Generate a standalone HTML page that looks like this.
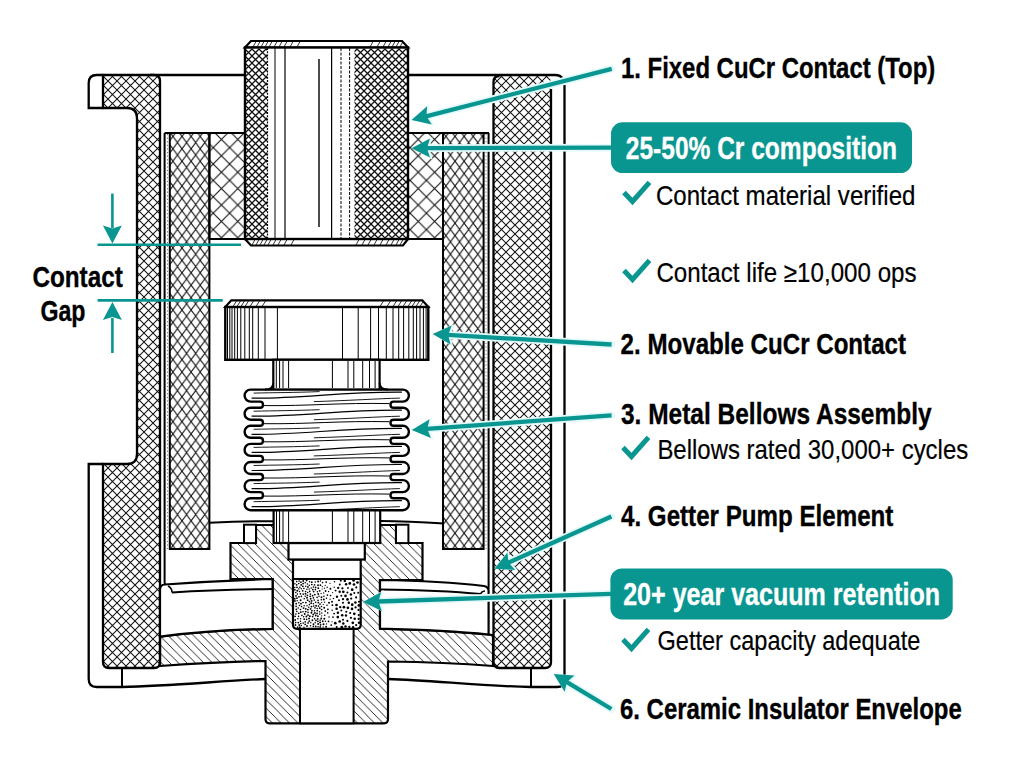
<!DOCTYPE html>
<html><head><meta charset="utf-8"><style>
html,body{margin:0;padding:0;background:#fff;width:1024px;height:765px;overflow:hidden;font-family:"Liberation Sans",sans-serif;}
svg{display:block}
</style></head><body>
<svg width="1024" height="765" viewBox="0 0 1024 765" font-family="Liberation Sans, sans-serif">
<defs>
<pattern id="xh1" width="9" height="9" patternUnits="userSpaceOnUse">
 <path d="M-1,-1 L10,10 M10,-1 L-1,10" stroke="#111" stroke-width="1.05"/>
</pattern>
<pattern id="xhR" width="9" height="9" patternUnits="userSpaceOnUse" x="2">
 <path d="M-1,-1 L10,10 M10,-1 L-1,10" stroke="#111" stroke-width="1.05"/>
</pattern>
<pattern id="xh2" width="9.1" height="12.4" patternUnits="userSpaceOnUse">
 <path d="M0,0 L9.1,12.4 M9.1,0 L0,12.4" stroke="#111" stroke-width="1.05"/>
</pattern>
<pattern id="xh3" width="16.4" height="16.4" patternUnits="userSpaceOnUse">
 <path d="M0,0 L16.4,16.4 M16.4,0 L0,16.4" stroke="#111" stroke-width="1.1"/>
</pattern>
<pattern id="xh4" width="7" height="7" patternUnits="userSpaceOnUse">
 <path d="M-1,-1 L8,8 M8,-1 L-1,8" stroke="#111" stroke-width="1.3"/>
</pattern>
<pattern id="hat" width="8.5" height="8.5" patternUnits="userSpaceOnUse">
 <path d="M-1,-1 L9.5,9.5 M-1,7.5 L1,9.5 M7.5,-1 L9.5,1" stroke="#111" stroke-width="0.9"/>
</pattern>
<pattern id="hatS" width="4" height="4" patternUnits="userSpaceOnUse">
 <path d="M-1,5 L5,-1" stroke="#111" stroke-width="0.8"/>
</pattern>
</defs>
<rect width="1024" height="765" fill="#fff"/><path d="M103,75 H154 Q160,75 160,81 V662 Q160,668 154,668 H109 Q103,668 103,662 V464 H127 Q137,464 137,454 V118 Q137,108 127,108 H103 Z" fill="url(#xh1)" stroke="#000" stroke-width="2.3"/>
<path d="M103,75 H96.7 Q88.7,75 88.7,83 V108 H103" fill="none" stroke="#000" stroke-width="2.3"/>
<path d="M103,464 H88.7 V679 Q88.7,687 96.7,687 H122 C170,686 220,681 265.5,679" fill="none" stroke="#000" stroke-width="2.3"/>
<line x1="122" y1="668" x2="122" y2="687" stroke="#000" stroke-width="2" />
<line x1="150" y1="75" x2="246" y2="75" stroke="#000" stroke-width="2.6" />
<path d="M499.5,75.5 H551 V662 Q551,668 545,668 H499.5 Q493.5,668 493.5,662 V81.5 Q493.5,75.5 499.5,75.5 Z" fill="url(#xhR)" stroke="none"/>
<path d="M551,89 V662 Q551,668 545,668 H499.5 Q493.5,668 493.5,662 V82 Q493.5,76 499.5,76" fill="none" stroke="#000" stroke-width="2.3"/>
<path d="M407,75 H555 Q561,75 562.5,79" fill="none" stroke="#000" stroke-width="2.6"/>
<path d="M564.5,85 V680 Q564.5,687 557,687 H531 C480,686 430,680 388,679" fill="none" stroke="#000" stroke-width="2.3"/>
<line x1="531" y1="668" x2="531" y2="687" stroke="#000" stroke-width="2" />
<rect x="169.8" y="133" width="39.6" height="416" fill="url(#xh2)" stroke="#000" stroke-width="2"/>
<rect x="209.4" y="133" width="35.6" height="106" fill="url(#xh3)" stroke="#000" stroke-width="2"/>
<line x1="164.6" y1="133" x2="246" y2="133" stroke="#000" stroke-width="2.2" />
<path d="M164.6,133 V582 Q164.6,586 168,586" fill="none" stroke="#000" stroke-width="2"/>
<line x1="167.5" y1="134" x2="167.5" y2="549" stroke="#777" stroke-width="1.0" stroke-dasharray="1.2 2.4"/>
<rect x="443" y="133" width="40.6" height="416" fill="url(#xh2)" stroke="#000" stroke-width="2"/>
<rect x="407.5" y="133" width="35.5" height="106" fill="url(#xh3)" stroke="#000" stroke-width="2"/>
<line x1="407" y1="133" x2="489" y2="133" stroke="#000" stroke-width="2.2" />
<path d="M488.6,133 V587 Q488.6,591 485,591" fill="none" stroke="#000" stroke-width="2"/>
<line x1="486" y1="134" x2="486" y2="549" stroke="#777" stroke-width="1.0" stroke-dasharray="1.2 2.4"/>
<path d="M245,47.5 L251,41 H402 L408,47.5 Z" fill="#fff" stroke="#000" stroke-width="2.2"/>
<line x1="253" y1="47" x2="256" y2="41.5" stroke="#000" stroke-width="0.8" />
<line x1="257" y1="47" x2="260" y2="41.5" stroke="#000" stroke-width="0.8" />
<line x1="261" y1="47" x2="264" y2="41.5" stroke="#000" stroke-width="0.8" />
<line x1="265" y1="47" x2="268" y2="41.5" stroke="#000" stroke-width="0.8" />
<line x1="269" y1="47" x2="272" y2="41.5" stroke="#000" stroke-width="0.8" />
<line x1="274" y1="47" x2="277" y2="41.5" stroke="#000" stroke-width="0.8" />
<line x1="279" y1="47" x2="282" y2="41.5" stroke="#000" stroke-width="0.8" />
<line x1="284" y1="47" x2="287" y2="41.5" stroke="#000" stroke-width="0.8" />
<line x1="290" y1="47" x2="293" y2="41.5" stroke="#000" stroke-width="0.8" />
<line x1="297" y1="47" x2="300" y2="41.5" stroke="#000" stroke-width="0.8" />
<line x1="370" y1="47" x2="373" y2="41.5" stroke="#000" stroke-width="0.8" />
<line x1="377" y1="47" x2="380" y2="41.5" stroke="#000" stroke-width="0.8" />
<line x1="383" y1="47" x2="386" y2="41.5" stroke="#000" stroke-width="0.8" />
<line x1="388" y1="47" x2="391" y2="41.5" stroke="#000" stroke-width="0.8" />
<line x1="392" y1="47" x2="395" y2="41.5" stroke="#000" stroke-width="0.8" />
<line x1="396" y1="47" x2="399" y2="41.5" stroke="#000" stroke-width="0.8" />
<line x1="400" y1="47" x2="403" y2="41.5" stroke="#000" stroke-width="0.8" />
<path d="M245,239 L251,245.5 H403 L408,239 Z" fill="#fff" stroke="#000" stroke-width="2.2"/>
<line x1="252" y1="245" x2="255" y2="239.5" stroke="#000" stroke-width="0.8" />
<line x1="256" y1="245" x2="259" y2="239.5" stroke="#000" stroke-width="0.8" />
<line x1="260" y1="245" x2="263" y2="239.5" stroke="#000" stroke-width="0.8" />
<line x1="264" y1="245" x2="267" y2="239.5" stroke="#000" stroke-width="0.8" />
<line x1="268" y1="245" x2="271" y2="239.5" stroke="#000" stroke-width="0.8" />
<line x1="273" y1="245" x2="276" y2="239.5" stroke="#000" stroke-width="0.8" />
<line x1="278" y1="245" x2="281" y2="239.5" stroke="#000" stroke-width="0.8" />
<line x1="284" y1="245" x2="287" y2="239.5" stroke="#000" stroke-width="0.8" />
<line x1="291" y1="245" x2="294" y2="239.5" stroke="#000" stroke-width="0.8" />
<line x1="356" y1="245" x2="359" y2="239.5" stroke="#000" stroke-width="0.8" />
<line x1="362" y1="245" x2="365" y2="239.5" stroke="#000" stroke-width="0.8" />
<line x1="368" y1="245" x2="371" y2="239.5" stroke="#000" stroke-width="0.8" />
<line x1="374" y1="245" x2="377" y2="239.5" stroke="#000" stroke-width="0.8" />
<line x1="380" y1="245" x2="383" y2="239.5" stroke="#000" stroke-width="0.8" />
<line x1="386" y1="245" x2="389" y2="239.5" stroke="#000" stroke-width="0.8" />
<line x1="391" y1="245" x2="394" y2="239.5" stroke="#000" stroke-width="0.8" />
<line x1="396" y1="245" x2="399" y2="239.5" stroke="#000" stroke-width="0.8" />
<line x1="400" y1="245" x2="403" y2="239.5" stroke="#000" stroke-width="0.8" />
<rect x="245" y="47.5" width="163" height="191.5" fill="#fff" stroke="#000" stroke-width="2.4"/>
<rect x="246" y="48.5" width="21" height="189.5" fill="url(#xh4)"/>
<rect x="354.5" y="48.5" width="52.5" height="189.5" fill="url(#xh4)"/>
<line x1="267.5" y1="48" x2="267.5" y2="239" stroke="#000" stroke-width="1.2" stroke-dasharray="2 1.2"/>
<line x1="275" y1="48" x2="275" y2="239" stroke="#000" stroke-width="1" />
<line x1="285" y1="48" x2="285" y2="239" stroke="#000" stroke-width="1.2" />
<line x1="319" y1="59" x2="319" y2="227" stroke="#000" stroke-width="1.4" />
<line x1="331.6" y1="48" x2="331.6" y2="239" stroke="#000" stroke-width="1.2" />
<line x1="341" y1="48" x2="341" y2="239" stroke="#000" stroke-width="1" stroke-dasharray="3 1.5"/>
<line x1="349.6" y1="48" x2="349.6" y2="239" stroke="#000" stroke-width="1" stroke-dasharray="3 1.5"/>
<path d="M256,525 H396 V543 H422.5 V580 H380 V628.6 C420,629.5 460,631.5 493,635 V666 C460,663.5 420,662 388,661.5 V719 Q388,723.3 384,723.3 H269.5 Q265.5,723.3 265.5,719 V661 C230,661.5 195,663.5 160,666 V636.6 C195,632 235,629.5 272.6,628.8 V579 H230.5 V543 H256 Z" fill="url(#hat)" stroke="#000" stroke-width="2.2"/>
<rect x="244" y="524.7" width="12" height="18.4" fill="#fff" stroke="#000" stroke-width="2"/>
<rect x="396" y="524.7" width="12.4" height="18.4" fill="#fff" stroke="#000" stroke-width="2"/>
<path d="M209.4,522.8 C230,521.8 255,521.2 274,521.2" fill="none" stroke="#000" stroke-width="2"/>
<path d="M380,521 C405,521.2 425,522.3 444,523.5" fill="none" stroke="#000" stroke-width="2"/>
<path d="M165,584.5 C200,582 240,580 272.6,579 V628.8 C235,629.5 195,632 160,636.6 V590 Q160,584.5 165,584.5 Z" fill="#fff" stroke="#000" stroke-width="2.2"/>
<path d="M172,592.4 C205,590.5 240,589.5 272.6,589" fill="none" stroke="#000" stroke-width="2"/>
<path d="M168,586 Q172,588 172,592.4" fill="none" stroke="#000" stroke-width="1.6"/>
<path d="M380,580 C415,580.5 455,582.5 484,586 Q488.6,587 488.6,591 V634.5 C460,631.5 420,629.5 380,628.6 Z" fill="#fff" stroke="#000" stroke-width="2.2"/>
<path d="M380,589.4 C415,589.8 450,591 481,594" fill="none" stroke="#000" stroke-width="2"/>
<path d="M485,591 Q481,591.5 481,594" fill="none" stroke="#000" stroke-width="1.6"/>
<rect x="293" y="559.5" width="67.7" height="20" fill="#fff" stroke="#000" stroke-width="2.2"/>
<rect x="288.5" y="543" width="76.3" height="16.5" fill="#fff" stroke="#000" stroke-width="2.2"/>
<rect x="300" y="628.8" width="53.6" height="94.5" fill="#fff" stroke="#000" stroke-width="2"/>
<path d="M293,579 H360.7 V624.8 Q360.7,628.8 356.7,628.8 H297 Q293,628.8 293,624.8 Z" fill="#fff" stroke="#000" stroke-width="2.2"/>
<g fill="#000"><circle cx="315.6" cy="587.4" r="0.89"/><circle cx="299.5" cy="605.5" r="0.83"/><circle cx="297.2" cy="600.7" r="0.77"/><circle cx="300.6" cy="600.3" r="0.93"/><circle cx="302.7" cy="590.8" r="0.89"/><circle cx="355.6" cy="607.4" r="1.13"/><circle cx="357.5" cy="582.5" r="1.34"/><circle cx="313.4" cy="587.1" r="0.78"/><circle cx="314.6" cy="618.7" r="0.79"/><circle cx="332.1" cy="610.3" r="0.75"/><circle cx="330.0" cy="583.3" r="0.62"/><circle cx="308.0" cy="612.3" r="0.84"/><circle cx="315.0" cy="607.8" r="0.85"/><circle cx="339.7" cy="591.8" r="1.21"/><circle cx="328.5" cy="621.4" r="0.89"/><circle cx="313.3" cy="626.4" r="0.78"/><circle cx="321.6" cy="615.9" r="0.66"/><circle cx="326.2" cy="582.1" r="0.87"/><circle cx="343.9" cy="607.2" r="1.34"/><circle cx="314.9" cy="613.0" r="0.88"/><circle cx="332.0" cy="601.7" r="0.94"/><circle cx="355.4" cy="602.6" r="1.25"/><circle cx="298.7" cy="613.3" r="0.89"/><circle cx="358.6" cy="618.9" r="1.08"/><circle cx="319.6" cy="611.7" r="0.75"/><circle cx="324.4" cy="588.2" r="0.65"/><circle cx="298.6" cy="616.4" r="0.78"/><circle cx="310.7" cy="598.7" r="0.94"/><circle cx="347.4" cy="620.9" r="1.08"/><circle cx="321.5" cy="597.2" r="0.95"/><circle cx="356.3" cy="587.4" r="1.03"/><circle cx="309.7" cy="591.3" r="0.86"/><circle cx="332.6" cy="592.6" r="0.60"/><circle cx="331.2" cy="625.1" r="0.88"/><circle cx="327.9" cy="609.3" r="0.87"/><circle cx="298.3" cy="622.6" r="0.92"/><circle cx="350.9" cy="617.8" r="1.13"/><circle cx="320.4" cy="585.2" r="0.85"/><circle cx="298.8" cy="583.5" r="0.80"/><circle cx="305.2" cy="596.3" r="0.76"/><circle cx="294.8" cy="587.4" r="0.77"/><circle cx="318.1" cy="581.5" r="0.94"/><circle cx="334.2" cy="587.3" r="0.70"/><circle cx="317.1" cy="597.4" r="0.78"/><circle cx="349.3" cy="627.0" r="1.16"/><circle cx="301.4" cy="596.4" r="0.81"/><circle cx="348.0" cy="587.9" r="0.96"/><circle cx="304.2" cy="605.8" r="0.76"/><circle cx="350.2" cy="613.0" r="1.07"/><circle cx="318.3" cy="588.2" r="0.92"/><circle cx="329.0" cy="616.9" r="0.73"/><circle cx="309.1" cy="618.4" r="0.97"/><circle cx="309.4" cy="604.6" r="0.83"/><circle cx="296.7" cy="581.6" r="0.81"/><circle cx="311.4" cy="612.8" r="0.96"/><circle cx="323.5" cy="624.3" r="1.00"/><circle cx="356.1" cy="597.4" r="1.05"/><circle cx="307.9" cy="609.6" r="0.95"/><circle cx="348.8" cy="602.8" r="1.24"/><circle cx="346.1" cy="584.3" r="1.25"/><circle cx="343.0" cy="602.8" r="1.03"/><circle cx="345.5" cy="595.9" r="1.31"/><circle cx="320.6" cy="624.8" r="0.89"/><circle cx="305.7" cy="586.3" r="0.78"/><circle cx="304.2" cy="619.1" r="0.97"/><circle cx="337.0" cy="596.8" r="1.20"/><circle cx="303.2" cy="581.0" r="0.96"/><circle cx="336.5" cy="605.0" r="1.37"/><circle cx="322.7" cy="621.3" r="0.93"/><circle cx="313.6" cy="591.6" r="0.88"/><circle cx="303.2" cy="623.1" r="0.83"/><circle cx="324.2" cy="607.7" r="0.96"/><circle cx="327.0" cy="605.3" r="0.81"/><circle cx="306.6" cy="580.5" r="0.93"/><circle cx="305.9" cy="602.6" r="0.91"/><circle cx="330.5" cy="595.6" r="0.81"/><circle cx="301.6" cy="606.6" r="0.80"/><circle cx="312.6" cy="616.6" r="0.86"/><circle cx="327.7" cy="612.9" r="0.78"/><circle cx="329.0" cy="602.8" r="0.98"/><circle cx="339.7" cy="621.5" r="1.37"/><circle cx="311.5" cy="606.6" r="0.96"/><circle cx="299.5" cy="591.6" r="0.77"/><circle cx="337.8" cy="617.1" r="1.35"/><circle cx="304.7" cy="614.0" r="0.90"/><circle cx="326.1" cy="626.8" r="0.93"/><circle cx="307.4" cy="595.3" r="0.91"/><circle cx="296.1" cy="606.3" r="0.85"/><circle cx="296.0" cy="595.9" r="0.89"/><circle cx="311.8" cy="582.2" r="0.92"/><circle cx="347.4" cy="592.5" r="1.02"/><circle cx="339.8" cy="584.5" r="0.98"/><circle cx="339.0" cy="600.3" r="0.98"/><circle cx="349.8" cy="583.4" r="1.34"/><circle cx="323.9" cy="596.2" r="0.82"/><circle cx="354.3" cy="592.9" r="1.01"/><circle cx="328.6" cy="591.5" r="0.64"/><circle cx="305.2" cy="582.7" r="0.79"/><circle cx="314.8" cy="594.6" r="0.92"/><circle cx="313.4" cy="603.8" r="0.79"/><circle cx="320.0" cy="604.1" r="0.90"/><circle cx="303.1" cy="583.6" r="0.91"/><circle cx="311.2" cy="588.0" r="0.77"/><circle cx="310.4" cy="594.1" r="0.85"/><circle cx="310.5" cy="625.7" r="0.82"/><circle cx="311.8" cy="584.5" r="0.84"/><circle cx="332.4" cy="605.2" r="0.90"/><circle cx="351.2" cy="598.6" r="1.10"/><circle cx="341.3" cy="610.5" r="0.97"/><circle cx="347.9" cy="607.8" r="1.35"/><circle cx="309.6" cy="581.8" r="0.78"/><circle cx="318.0" cy="585.2" r="0.93"/><circle cx="346.0" cy="615.5" r="1.18"/><circle cx="308.0" cy="615.1" r="0.96"/><circle cx="326.5" cy="598.3" r="0.79"/><circle cx="299.8" cy="587.2" r="0.81"/><circle cx="337.9" cy="612.8" r="1.25"/><circle cx="324.6" cy="602.2" r="0.65"/><circle cx="352.2" cy="589.7" r="1.39"/><circle cx="324.3" cy="618.8" r="0.99"/><circle cx="323.7" cy="592.9" r="0.68"/><circle cx="343.0" cy="619.7" r="1.00"/><circle cx="354.3" cy="613.8" r="1.36"/><circle cx="313.4" cy="597.8" r="0.84"/><circle cx="318.0" cy="600.4" r="0.81"/><circle cx="307.0" cy="597.8" r="0.96"/><circle cx="335.3" cy="623.2" r="1.37"/><circle cx="303.0" cy="602.5" r="0.83"/><circle cx="308.1" cy="622.9" r="0.86"/><circle cx="321.3" cy="599.8" r="0.81"/><circle cx="319.0" cy="596.2" r="0.76"/><circle cx="294.8" cy="598.7" r="0.95"/><circle cx="319.7" cy="590.8" r="0.88"/><circle cx="296.2" cy="603.7" r="0.90"/><circle cx="304.2" cy="598.8" r="0.80"/><circle cx="320.1" cy="622.5" r="0.94"/><circle cx="341.8" cy="627.2" r="1.37"/><circle cx="296.8" cy="611.5" r="0.83"/><circle cx="317.7" cy="618.9" r="0.93"/><circle cx="322.6" cy="582.6" r="0.79"/><circle cx="321.2" cy="618.5" r="0.91"/><circle cx="343.3" cy="623.4" r="1.24"/><circle cx="356.2" cy="625.1" r="1.12"/><circle cx="326.5" cy="623.9" r="0.67"/><circle cx="315.7" cy="626.4" r="0.94"/><circle cx="358.2" cy="592.7" r="0.99"/><circle cx="301.0" cy="603.7" r="0.91"/><circle cx="321.6" cy="609.5" r="0.87"/><circle cx="320.2" cy="626.9" r="0.86"/><circle cx="336.7" cy="626.9" r="1.00"/><circle cx="297.4" cy="594.1" r="0.78"/><circle cx="307.0" cy="626.0" r="0.88"/><circle cx="321.1" cy="593.6" r="0.72"/><circle cx="347.5" cy="599.4" r="1.35"/><circle cx="300.5" cy="609.5" r="0.83"/><circle cx="327.2" cy="587.2" r="0.71"/><circle cx="296.3" cy="609.4" r="0.86"/><circle cx="309.9" cy="616.2" r="0.92"/><circle cx="325.2" cy="585.3" r="0.65"/><circle cx="323.2" cy="604.3" r="0.62"/><circle cx="299.0" cy="596.8" r="0.92"/><circle cx="315.3" cy="582.0" r="0.79"/><circle cx="305.2" cy="624.3" r="0.90"/><circle cx="317.9" cy="621.3" r="0.87"/><circle cx="332.0" cy="621.8" r="0.64"/><circle cx="358.5" cy="609.9" r="1.13"/><circle cx="317.9" cy="616.2" r="0.85"/><circle cx="297.9" cy="618.8" r="0.81"/><circle cx="297.0" cy="587.3" r="0.89"/><circle cx="317.3" cy="610.6" r="0.85"/><circle cx="310.8" cy="622.8" r="0.76"/><circle cx="344.8" cy="580.9" r="1.20"/><circle cx="295.2" cy="620.0" r="0.91"/><circle cx="324.7" cy="615.2" r="0.78"/><circle cx="309.3" cy="585.2" r="0.80"/><circle cx="295.8" cy="592.5" r="0.80"/><circle cx="301.2" cy="584.9" r="0.92"/><circle cx="334.5" cy="581.8" r="0.77"/><circle cx="317.1" cy="613.4" r="0.87"/><circle cx="300.6" cy="618.8" r="0.79"/><circle cx="294.9" cy="589.8" r="0.92"/><circle cx="342.4" cy="588.3" r="1.15"/><circle cx="301.3" cy="625.5" r="0.77"/><circle cx="320.5" cy="580.9" r="0.77"/><circle cx="321.8" cy="613.1" r="0.74"/><circle cx="313.7" cy="606.1" r="0.78"/><circle cx="322.2" cy="589.0" r="0.60"/><circle cx="318.1" cy="624.0" r="0.94"/><circle cx="295.5" cy="625.0" r="0.89"/><circle cx="352.0" cy="608.9" r="1.30"/><circle cx="318.3" cy="602.6" r="0.87"/><circle cx="301.3" cy="588.8" r="0.76"/><circle cx="314.2" cy="600.1" r="0.82"/><circle cx="319.7" cy="608.1" r="0.96"/><circle cx="300.5" cy="621.2" r="0.78"/><circle cx="295.9" cy="614.1" r="0.80"/><circle cx="340.8" cy="580.8" r="0.96"/><circle cx="312.4" cy="620.3" r="0.93"/><circle cx="306.9" cy="589.3" r="0.79"/><circle cx="297.7" cy="627.2" r="0.83"/><circle cx="352.8" cy="622.8" r="1.33"/><circle cx="305.6" cy="591.5" r="0.78"/><circle cx="315.2" cy="622.7" r="0.78"/><circle cx="308.8" cy="607.2" r="0.78"/><circle cx="306.4" cy="616.5" r="0.91"/><circle cx="307.4" cy="584.0" r="0.77"/><circle cx="334.1" cy="613.6" r="0.92"/><circle cx="325.4" cy="621.3" r="0.71"/><circle cx="306.7" cy="619.4" r="0.83"/><circle cx="309.2" cy="588.9" r="0.77"/><circle cx="296.7" cy="584.8" r="0.90"/><circle cx="303.6" cy="608.1" r="0.94"/><circle cx="314.4" cy="610.7" r="0.78"/><circle cx="303.2" cy="594.1" r="0.84"/><circle cx="342.2" cy="615.2" r="1.29"/><circle cx="295.1" cy="616.3" r="0.88"/><circle cx="311.9" cy="610.7" r="0.87"/><circle cx="319.8" cy="614.1" r="0.80"/><circle cx="317.4" cy="591.8" r="0.79"/><circle cx="309.4" cy="601.6" r="0.78"/><circle cx="305.7" cy="611.6" r="0.88"/><circle cx="312.8" cy="589.6" r="0.90"/><circle cx="315.6" cy="602.3" r="0.83"/><circle cx="307.0" cy="605.8" r="0.75"/><circle cx="318.5" cy="606.2" r="0.83"/><circle cx="303.6" cy="616.8" r="0.76"/><circle cx="315.8" cy="615.5" r="0.89"/><circle cx="341.3" cy="595.8" r="0.99"/><circle cx="325.3" cy="611.1" r="0.91"/><circle cx="318.1" cy="626.8" r="0.80"/><circle cx="330.4" cy="588.8" r="0.98"/><circle cx="304.0" cy="627.2" r="0.75"/><circle cx="307.7" cy="600.2" r="0.92"/><circle cx="296.9" cy="598.2" r="0.89"/><circle cx="333.0" cy="617.1" r="0.88"/><circle cx="300.8" cy="612.1" r="0.96"/><circle cx="309.3" cy="621.1" r="0.97"/><circle cx="353.6" cy="580.4" r="1.33"/><circle cx="299.1" cy="581.0" r="0.83"/><circle cx="346.3" cy="611.8" r="1.07"/><circle cx="359.0" cy="601.8" r="1.05"/><circle cx="323.8" cy="599.5" r="0.96"/><circle cx="338.2" cy="587.9" r="1.12"/><circle cx="343.3" cy="591.8" r="1.36"/><circle cx="330.1" cy="599.2" r="0.67"/><circle cx="354.0" cy="584.5" r="1.37"/><circle cx="303.9" cy="588.5" r="0.83"/><circle cx="305.2" cy="621.9" r="0.83"/><circle cx="301.9" cy="615.4" r="0.81"/><circle cx="313.5" cy="624.2" r="0.93"/><circle cx="323.1" cy="627.0" r="0.64"/><circle cx="303.0" cy="611.8" r="0.81"/><circle cx="316.1" cy="605.8" r="0.95"/><circle cx="314.5" cy="584.9" r="0.81"/><circle cx="315.4" cy="589.6" r="0.84"/><circle cx="295.7" cy="622.6" r="0.81"/><circle cx="358.7" cy="615.1" r="1.04"/><circle cx="311.6" cy="600.9" r="0.95"/><circle cx="317.2" cy="608.4" r="0.77"/><circle cx="358.9" cy="605.4" r="1.38"/><circle cx="294.9" cy="583.7" r="0.76"/><circle cx="327.4" cy="595.1" r="0.84"/><circle cx="336.6" cy="608.7" r="1.28"/><circle cx="299.2" cy="625.0" r="0.89"/><circle cx="298.8" cy="602.8" r="0.81"/><circle cx="311.2" cy="603.2" r="0.92"/><circle cx="321.7" cy="602.3" r="0.65"/><circle cx="335.6" cy="590.6" r="0.96"/><circle cx="307.9" cy="586.9" r="0.95"/><circle cx="318.2" cy="594.0" r="0.96"/><circle cx="353.1" cy="627.2" r="1.25"/><circle cx="312.6" cy="595.7" r="0.87"/><circle cx="354.7" cy="618.8" r="1.24"/><circle cx="352.2" cy="604.7" r="1.38"/><circle cx="300.4" cy="593.8" r="0.84"/><circle cx="297.3" cy="590.7" r="0.97"/><circle cx="310.2" cy="596.3" r="0.91"/><circle cx="345.5" cy="626.5" r="1.24"/><circle cx="333.5" cy="598.4" r="0.74"/><circle cx="298.8" cy="589.1" r="0.76"/><circle cx="322.3" cy="586.6" r="0.61"/><circle cx="321.5" cy="606.5" r="0.80"/><circle cx="294.9" cy="601.0" r="0.90"/><circle cx="313.3" cy="614.5" r="0.90"/><circle cx="300.9" cy="582.2" r="0.86"/><circle cx="310.6" cy="608.8" r="0.91"/><circle cx="340.2" cy="607.1" r="1.19"/><circle cx="320.1" cy="620.3" r="0.79"/><circle cx="302.9" cy="586.3" r="0.91"/><circle cx="315.9" cy="620.4" r="0.86"/><circle cx="325.6" cy="591.0" r="0.90"/><circle cx="305.8" cy="608.8" r="0.89"/><circle cx="298.2" cy="608.0" r="0.83"/><circle cx="343.0" cy="599.1" r="1.17"/><circle cx="305.5" cy="593.8" r="0.94"/><circle cx="300.8" cy="623.4" r="0.77"/><circle cx="359.0" cy="622.8" r="1.27"/><circle cx="307.7" cy="592.4" r="0.76"/><circle cx="350.9" cy="594.5" r="1.23"/><circle cx="299.9" cy="627.2" r="0.93"/></g>
<rect x="273.6" y="509" width="106.6" height="34" fill="#fff" stroke="#000" stroke-width="2.2"/>
<line x1="276.5" y1="511" x2="276.5" y2="542" stroke="#000" stroke-width="1" />
<line x1="279.6" y1="511" x2="279.6" y2="542" stroke="#000" stroke-width="1" />
<line x1="283" y1="511" x2="283" y2="542" stroke="#000" stroke-width="1" />
<line x1="288.6" y1="511" x2="288.6" y2="542" stroke="#000" stroke-width="1" />
<line x1="332.4" y1="511" x2="332.4" y2="542" stroke="#000" stroke-width="1" />
<line x1="348" y1="511" x2="348" y2="542" stroke="#000" stroke-width="1" />
<line x1="353.8" y1="511" x2="353.8" y2="542" stroke="#000" stroke-width="1" />
<line x1="362.7" y1="511" x2="362.7" y2="542" stroke="#000" stroke-width="1" />
<line x1="369.5" y1="511" x2="369.5" y2="542" stroke="#000" stroke-width="1" />
<line x1="375.1" y1="511" x2="375.1" y2="542" stroke="#000" stroke-width="1" />
<path d="M225.3,307 L231.3,300.3 H422.3 L428.3,307 Z" fill="#fff" stroke="#000" stroke-width="2.2"/>
<line x1="233" y1="306.5" x2="236.5" y2="301" stroke="#000" stroke-width="0.8" />
<line x1="237" y1="306.5" x2="240.5" y2="301" stroke="#000" stroke-width="0.8" />
<line x1="241" y1="306.5" x2="244.5" y2="301" stroke="#000" stroke-width="0.8" />
<line x1="245" y1="306.5" x2="248.5" y2="301" stroke="#000" stroke-width="0.8" />
<line x1="250" y1="306.5" x2="253.5" y2="301" stroke="#000" stroke-width="0.8" />
<line x1="256" y1="306.5" x2="259.5" y2="301" stroke="#000" stroke-width="0.8" />
<line x1="262" y1="306.5" x2="265.5" y2="301" stroke="#000" stroke-width="0.8" />
<line x1="380" y1="306.5" x2="383.5" y2="301" stroke="#000" stroke-width="0.8" />
<line x1="387" y1="306.5" x2="390.5" y2="301" stroke="#000" stroke-width="0.8" />
<line x1="393" y1="306.5" x2="396.5" y2="301" stroke="#000" stroke-width="0.8" />
<line x1="398" y1="306.5" x2="401.5" y2="301" stroke="#000" stroke-width="0.8" />
<line x1="403" y1="306.5" x2="406.5" y2="301" stroke="#000" stroke-width="0.8" />
<line x1="408" y1="306.5" x2="411.5" y2="301" stroke="#000" stroke-width="0.8" />
<line x1="412" y1="306.5" x2="415.5" y2="301" stroke="#000" stroke-width="0.8" />
<line x1="416" y1="306.5" x2="419.5" y2="301" stroke="#000" stroke-width="0.8" />
<line x1="420" y1="306.5" x2="423.5" y2="301" stroke="#000" stroke-width="0.8" />
<rect x="225.3" y="307" width="203" height="52.8" fill="#fff" stroke="#000" stroke-width="2.4"/>
<line x1="227.5" y1="308" x2="227.5" y2="359" stroke="#000" stroke-width="1" />
<line x1="229.8" y1="308" x2="229.8" y2="359" stroke="#000" stroke-width="1" />
<line x1="232" y1="308" x2="232" y2="359" stroke="#000" stroke-width="1" />
<line x1="234.7" y1="308" x2="234.7" y2="359" stroke="#000" stroke-width="1" />
<line x1="237.4" y1="308" x2="237.4" y2="359" stroke="#000" stroke-width="1" />
<line x1="240.8" y1="308" x2="240.8" y2="359" stroke="#000" stroke-width="1" />
<line x1="244.8" y1="308" x2="244.8" y2="359" stroke="#000" stroke-width="1" />
<line x1="249.3" y1="308" x2="249.3" y2="359" stroke="#000" stroke-width="1" />
<line x1="252.7" y1="308" x2="252.7" y2="359" stroke="#000" stroke-width="1" />
<line x1="258.3" y1="308" x2="258.3" y2="359" stroke="#000" stroke-width="1" />
<line x1="265" y1="308" x2="265" y2="359" stroke="#000" stroke-width="1" />
<line x1="277.4" y1="308" x2="277.4" y2="359" stroke="#000" stroke-width="1" />
<line x1="342.5" y1="308" x2="342.5" y2="359" stroke="#000" stroke-width="1" />
<line x1="358.2" y1="308" x2="358.2" y2="359" stroke="#000" stroke-width="1" />
<line x1="370.6" y1="308" x2="370.6" y2="359" stroke="#000" stroke-width="1" />
<line x1="378.5" y1="308" x2="378.5" y2="359" stroke="#000" stroke-width="1" />
<line x1="386.3" y1="308" x2="386.3" y2="359" stroke="#000" stroke-width="1" />
<line x1="393" y1="308" x2="393" y2="359" stroke="#000" stroke-width="1" />
<line x1="398.7" y1="308" x2="398.7" y2="359" stroke="#000" stroke-width="1" />
<line x1="403.6" y1="308" x2="403.6" y2="359" stroke="#000" stroke-width="1" />
<line x1="408.8" y1="308" x2="408.8" y2="359" stroke="#000" stroke-width="1" />
<line x1="413.3" y1="308" x2="413.3" y2="359" stroke="#000" stroke-width="1" />
<line x1="416.6" y1="308" x2="416.6" y2="359" stroke="#000" stroke-width="1" />
<line x1="420" y1="308" x2="420" y2="359" stroke="#000" stroke-width="1" />
<line x1="423.4" y1="308" x2="423.4" y2="359" stroke="#000" stroke-width="1" />
<line x1="426.1" y1="308" x2="426.1" y2="359" stroke="#000" stroke-width="1" />
<rect x="273.3" y="359.8" width="106.3" height="30" fill="#fff" stroke="#000" stroke-width="2.2"/>
<line x1="276.3" y1="361" x2="276.3" y2="388" stroke="#000" stroke-width="1" />
<line x1="279.6" y1="361" x2="279.6" y2="388" stroke="#000" stroke-width="1" />
<line x1="283" y1="361" x2="283" y2="388" stroke="#000" stroke-width="1" />
<line x1="288.6" y1="361" x2="288.6" y2="388" stroke="#000" stroke-width="1" />
<line x1="332.4" y1="361" x2="332.4" y2="388" stroke="#000" stroke-width="1" />
<line x1="348" y1="361" x2="348" y2="388" stroke="#000" stroke-width="1" />
<line x1="353.8" y1="361" x2="353.8" y2="388" stroke="#000" stroke-width="1" />
<line x1="362.7" y1="361" x2="362.7" y2="388" stroke="#000" stroke-width="1" />
<line x1="369.5" y1="361" x2="369.5" y2="388" stroke="#000" stroke-width="1" />
<line x1="375.1" y1="361" x2="375.1" y2="388" stroke="#000" stroke-width="1" />
<path d="M250.6,389.6 H402.9 A6.0,6.0 0 0 1 402.9,401.6 H393.5 Q390.5,401.6 390.5,404.65000000000003 Q390.5,407.70000000000005 393.5,407.70000000000005 H402.9 A6.0,6.0 0 0 1 402.9,419.70000000000005 H393.5 Q390.5,419.70000000000005 390.5,422.75000000000006 Q390.5,425.8 393.5,425.8 H402.9 A6.0,6.0 0 0 1 402.9,437.8 H393.5 Q390.5,437.8 390.5,440.85 Q390.5,443.90000000000003 393.5,443.90000000000003 H402.9 A6.0,6.0 0 0 1 402.9,455.90000000000003 H393.5 Q390.5,455.90000000000003 390.5,458.95000000000005 Q390.5,462.0 393.5,462.0 H402.9 A6.0,6.0 0 0 1 402.9,474.0 H393.5 Q390.5,474.0 390.5,477.05 Q390.5,480.1 393.5,480.1 H402.9 A6.0,6.0 0 0 1 402.9,492.1 H393.5 Q390.5,492.1 390.5,495.15000000000003 Q390.5,498.20000000000005 393.5,498.20000000000005 H402.9 A6.0,6.0 0 0 1 402.9,510.20000000000005 H250.6 A6.0,6.0 0 0 1 250.6,498.20000000000005 H260 Q263,498.20000000000005 263,495.15000000000003 Q263,492.1 260,492.1 H250.6 A6.0,6.0 0 0 1 250.6,480.1 H260 Q263,480.1 263,477.05 Q263,474.0 260,474.0 H250.6 A6.0,6.0 0 0 1 250.6,462.0 H260 Q263,462.0 263,458.95 Q263,455.90000000000003 260,455.90000000000003 H250.6 A6.0,6.0 0 0 1 250.6,443.90000000000003 H260 Q263,443.90000000000003 263,440.85 Q263,437.8 260,437.8 H250.6 A6.0,6.0 0 0 1 250.6,425.8 H260 Q263,425.8 263,422.75 Q263,419.70000000000005 260,419.70000000000005 H250.6 A6.0,6.0 0 0 1 250.6,407.70000000000005 H260 Q263,407.70000000000005 263,404.65000000000003 Q263,401.6 260,401.6 H250.6 A6.0,6.0 0 0 1 250.6,389.6 Z" fill="#fff" stroke="#000" stroke-width="2.4"/>
<path d="M273.3,383 Q273.3,389.6 265,389.6 M379.6,383 Q379.6,389.6 388,389.6" fill="none" stroke="#000" stroke-width="2"/>
<path d="M251.6,398.1 C304.6,398.6 338.9,391.6 401.9,392.1" fill="none" stroke="#000" stroke-width="1.2"/>
<path d="M253.6,393.1 C274.6,392.6 294.6,392.6 319.6,391.6" fill="none" stroke="#000" stroke-width="0.9"/>
<path d="M313.9,401.6 C348.9,400.6 378.9,398.6 399.9,398.1" fill="none" stroke="#000" stroke-width="0.9"/>
<path d="M264,405.6 C308,406.1 340.5,402.6 389.5,403.6" fill="none" stroke="#000" stroke-width="1.0"/>
<path d="M251.6,416.20000000000005 C304.6,416.70000000000005 338.9,409.70000000000005 401.9,410.20000000000005" fill="none" stroke="#000" stroke-width="1.2"/>
<path d="M253.6,411.20000000000005 C274.6,410.70000000000005 294.6,410.70000000000005 319.6,409.70000000000005" fill="none" stroke="#000" stroke-width="0.9"/>
<path d="M313.9,419.70000000000005 C348.9,418.70000000000005 378.9,416.70000000000005 399.9,416.20000000000005" fill="none" stroke="#000" stroke-width="0.9"/>
<path d="M264,423.70000000000005 C308,424.20000000000005 340.5,420.70000000000005 389.5,421.70000000000005" fill="none" stroke="#000" stroke-width="1.0"/>
<path d="M251.6,434.3 C304.6,434.8 338.9,427.8 401.9,428.3" fill="none" stroke="#000" stroke-width="1.2"/>
<path d="M253.6,429.3 C274.6,428.8 294.6,428.8 319.6,427.8" fill="none" stroke="#000" stroke-width="0.9"/>
<path d="M313.9,437.8 C348.9,436.8 378.9,434.8 399.9,434.3" fill="none" stroke="#000" stroke-width="0.9"/>
<path d="M264,441.8 C308,442.3 340.5,438.8 389.5,439.8" fill="none" stroke="#000" stroke-width="1.0"/>
<path d="M251.6,452.40000000000003 C304.6,452.90000000000003 338.9,445.90000000000003 401.9,446.40000000000003" fill="none" stroke="#000" stroke-width="1.2"/>
<path d="M253.6,447.40000000000003 C274.6,446.90000000000003 294.6,446.90000000000003 319.6,445.90000000000003" fill="none" stroke="#000" stroke-width="0.9"/>
<path d="M313.9,455.90000000000003 C348.9,454.90000000000003 378.9,452.90000000000003 399.9,452.40000000000003" fill="none" stroke="#000" stroke-width="0.9"/>
<path d="M264,459.90000000000003 C308,460.40000000000003 340.5,456.90000000000003 389.5,457.90000000000003" fill="none" stroke="#000" stroke-width="1.0"/>
<path d="M251.6,470.5 C304.6,471.0 338.9,464.0 401.9,464.5" fill="none" stroke="#000" stroke-width="1.2"/>
<path d="M253.6,465.5 C274.6,465.0 294.6,465.0 319.6,464.0" fill="none" stroke="#000" stroke-width="0.9"/>
<path d="M313.9,474.0 C348.9,473.0 378.9,471.0 399.9,470.5" fill="none" stroke="#000" stroke-width="0.9"/>
<path d="M264,478.0 C308,478.5 340.5,475.0 389.5,476.0" fill="none" stroke="#000" stroke-width="1.0"/>
<path d="M251.6,488.6 C304.6,489.1 338.9,482.1 401.9,482.6" fill="none" stroke="#000" stroke-width="1.2"/>
<path d="M253.6,483.6 C274.6,483.1 294.6,483.1 319.6,482.1" fill="none" stroke="#000" stroke-width="0.9"/>
<path d="M313.9,492.1 C348.9,491.1 378.9,489.1 399.9,488.6" fill="none" stroke="#000" stroke-width="0.9"/>
<path d="M264,496.1 C308,496.6 340.5,493.1 389.5,494.1" fill="none" stroke="#000" stroke-width="1.0"/>
<path d="M251.6,506.70000000000005 C304.6,507.20000000000005 338.9,500.20000000000005 401.9,500.70000000000005" fill="none" stroke="#000" stroke-width="1.2"/>
<path d="M253.6,501.70000000000005 C274.6,501.20000000000005 294.6,501.20000000000005 319.6,500.20000000000005" fill="none" stroke="#000" stroke-width="0.9"/>
<path d="M313.9,510.20000000000005 C348.9,509.20000000000005 378.9,507.20000000000005 399.9,506.70000000000005" fill="none" stroke="#000" stroke-width="0.9"/>
<line x1="97.6" y1="244.7" x2="241" y2="244.7" stroke="#0a9690" stroke-width="2.6" />
<line x1="97.6" y1="300.4" x2="222.7" y2="300.4" stroke="#0a9690" stroke-width="2.6" />
<line x1="112.4" y1="193.6" x2="112.4" y2="228" stroke="#0a9690" stroke-width="2.6" />
<path d="M112.4,243.5 L102.9,225.5 L112.4,228.5 L121.9,225.5 Z" fill="#0a9690"/>
<line x1="112.4" y1="318" x2="112.4" y2="353" stroke="#0a9690" stroke-width="2.6" />
<path d="M112.4,302.0 L121.9,320.0 L112.4,317.0 L102.9,320.0 Z" fill="#0a9690"/>
<line x1="611.7" y1="68.9" x2="426.0" y2="116.3" stroke="#e4fafa" stroke-width="7.8" stroke-linecap="round"/>
<path d="M411.5,120.0 L429.1,103.9 L428.9,115.5 L434.6,125.7 Z" fill="#e4fafa"/>
<line x1="611.7" y1="68.9" x2="426.0" y2="116.3" stroke="#0a9690" stroke-width="4.3"/>
<path d="M411.5,120.0 L427.1,106.2 L426.5,116.2 L431.8,124.6 Z" fill="#0a9690"/>
<line x1="611" y1="147.6" x2="426.5" y2="148.2" stroke="#e4fafa" stroke-width="7.8" stroke-linecap="round"/>
<path d="M411.5,148.2 L432.5,136.9 L429.5,148.1 L432.5,159.4 Z" fill="#e4fafa"/>
<line x1="611" y1="147.6" x2="426.5" y2="148.2" stroke="#0a9690" stroke-width="4.3"/>
<path d="M411.5,148.2 L430.0,138.6 L427.0,148.2 L430.0,157.6 Z" fill="#0a9690"/>
<line x1="611.6" y1="344.5" x2="447.7" y2="334.9" stroke="#e4fafa" stroke-width="7.8" stroke-linecap="round"/>
<path d="M432.7,334.0 L454.3,324.0 L450.7,335.1 L453.0,346.5 Z" fill="#e4fafa"/>
<line x1="611.6" y1="344.5" x2="447.7" y2="334.9" stroke="#0a9690" stroke-width="4.3"/>
<path d="M432.7,334.0 L451.7,325.6 L448.2,334.9 L450.6,344.6 Z" fill="#0a9690"/>
<line x1="611.6" y1="415.4" x2="426.8" y2="428.9" stroke="#e4fafa" stroke-width="7.8" stroke-linecap="round"/>
<path d="M411.8,430.0 L431.9,417.2 L429.8,428.7 L433.6,439.7 Z" fill="#e4fafa"/>
<line x1="611.6" y1="415.4" x2="426.8" y2="428.9" stroke="#0a9690" stroke-width="4.3"/>
<path d="M411.8,430.0 L429.6,419.2 L427.3,428.9 L430.9,438.1 Z" fill="#0a9690"/>
<line x1="611.4" y1="516.5" x2="508.1" y2="562.7" stroke="#e4fafa" stroke-width="7.8" stroke-linecap="round"/>
<path d="M494.4,568.8 L509.0,550.0 L510.8,561.5 L518.2,570.5 Z" fill="#e4fafa"/>
<line x1="611.4" y1="516.5" x2="508.1" y2="562.7" stroke="#0a9690" stroke-width="4.3"/>
<path d="M494.4,568.8 L507.4,552.6 L508.6,562.5 L515.2,569.9 Z" fill="#0a9690"/>
<line x1="611" y1="593.8" x2="378.0" y2="601.5" stroke="#e4fafa" stroke-width="7.8" stroke-linecap="round"/>
<path d="M363.0,602.0 L383.6,590.1 L381.0,601.4 L384.4,612.5 Z" fill="#e4fafa"/>
<line x1="611" y1="593.8" x2="378.0" y2="601.5" stroke="#0a9690" stroke-width="4.3"/>
<path d="M363.0,602.0 L381.2,591.9 L378.5,601.5 L381.8,610.9 Z" fill="#0a9690"/>
<line x1="611.4" y1="709" x2="566.5" y2="681.8" stroke="#e4fafa" stroke-width="7.8" stroke-linecap="round"/>
<path d="M553.7,674.0 L577.5,675.3 L569.1,683.3 L565.8,694.5 Z" fill="#e4fafa"/>
<line x1="611.4" y1="709" x2="566.5" y2="681.8" stroke="#0a9690" stroke-width="4.3"/>
<path d="M553.7,674.0 L574.4,675.5 L567.0,682.0 L564.6,691.7 Z" fill="#0a9690"/>
<rect x="611" y="122.3" width="301" height="50.8" rx="11.5" fill="#0a9690"/>
<rect x="610.4" y="568.4" width="342.3" height="51" rx="11.5" fill="#0a9690"/>
<text x="32.4" y="287.2" font-size="30" font-weight="bold" fill="#000" stroke="#000" stroke-width="0.35" textLength="90.4" lengthAdjust="spacingAndGlyphs">Contact</text>
<text x="40.4" y="321" font-size="30" font-weight="bold" fill="#000" stroke="#000" stroke-width="0.35" textLength="45.0" lengthAdjust="spacingAndGlyphs">Gap</text>
<text x="621.0" y="77.5" font-size="30" font-weight="bold" fill="#000" stroke="#000" stroke-width="0.35" textLength="314.21" lengthAdjust="spacingAndGlyphs">1. Fixed CuCr Contact (Top)</text>
<text x="625.8" y="159.2" font-size="32" font-weight="bold" fill="#fff" stroke="#fff" stroke-width="0.35" textLength="271.21" lengthAdjust="spacingAndGlyphs">25-50% Cr composition</text>
<text x="655.99" y="204.5" font-size="27.8" font-weight="normal" fill="#000" stroke="#000" stroke-width="0.2" textLength="259.43" lengthAdjust="spacingAndGlyphs">Contact material verified</text>
<text x="656.39" y="282.3" font-size="27.8" font-weight="normal" fill="#000" stroke="#000" stroke-width="0.2" textLength="260.21" lengthAdjust="spacingAndGlyphs">Contact life ≥10,000 ops</text>
<text x="620.6" y="354.1" font-size="30" font-weight="bold" fill="#000" stroke="#000" stroke-width="0.35" textLength="285.4" lengthAdjust="spacingAndGlyphs">2. Movable CuCr Contact</text>
<text x="621.0" y="423.7" font-size="30" font-weight="bold" fill="#000" stroke="#000" stroke-width="0.35" textLength="310.6" lengthAdjust="spacingAndGlyphs">3. Metal Bellows Assembly</text>
<text x="657.39" y="458.6" font-size="27.8" font-weight="normal" fill="#000" stroke="#000" stroke-width="0.2" textLength="310.82" lengthAdjust="spacingAndGlyphs">Bellows rated 30,000+ cycles</text>
<text x="621.0" y="525.5" font-size="30" font-weight="bold" fill="#000" stroke="#000" stroke-width="0.35" textLength="272.4" lengthAdjust="spacingAndGlyphs">4. Getter Pump Element</text>
<text x="623.2" y="605" font-size="32" font-weight="bold" fill="#fff" stroke="#fff" stroke-width="0.35" textLength="316.81" lengthAdjust="spacingAndGlyphs">20+ year vacuum retention</text>
<text x="657.59" y="650.3" font-size="27.8" font-weight="normal" fill="#000" stroke="#000" stroke-width="0.2" textLength="262.81" lengthAdjust="spacingAndGlyphs">Getter capacity adequate</text>
<text x="620.0" y="719.3" font-size="30" font-weight="bold" fill="#000" stroke="#000" stroke-width="0.35" textLength="341.8" lengthAdjust="spacingAndGlyphs">6. Ceramic Insulator Envelope</text>
<path d="M624.0,192.5 L632.5,201.5 L649.5,182.3" fill="none" stroke="#0a9690" stroke-width="5"/>
<path d="M624.0,270.5 L632.5,279.5 L649.5,260.3" fill="none" stroke="#0a9690" stroke-width="5"/>
<path d="M623.0,447.5 L631.5,456.5 L648.5,437.3" fill="none" stroke="#0a9690" stroke-width="5"/>
<path d="M623.0,639.5 L631.5,648.5 L648.5,629.3" fill="none" stroke="#0a9690" stroke-width="5"/></svg>
</body></html>
